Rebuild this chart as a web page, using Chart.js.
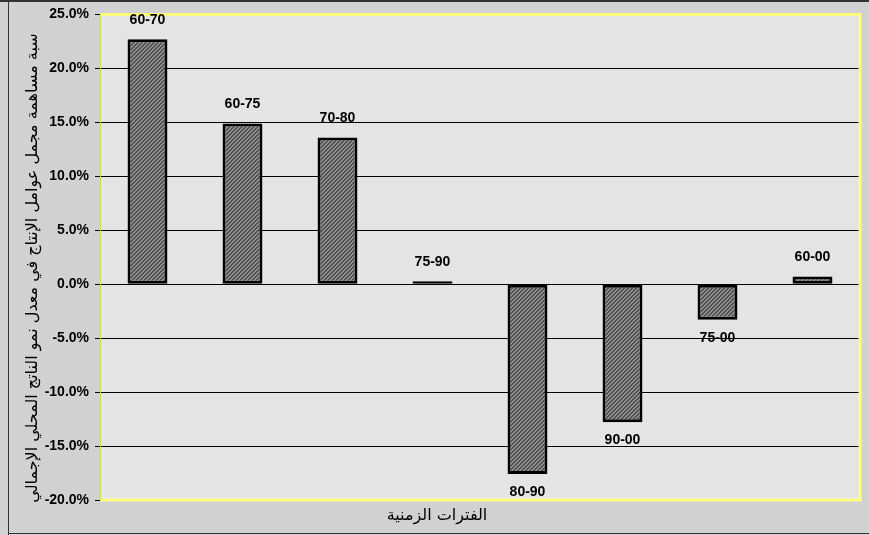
<!DOCTYPE html>
<html>
<head>
<meta charset="utf-8">
<script src="https://cdn.jsdelivr.net/npm/chart.js@4.4.0/dist/chart.umd.min.js"></script>
<style>
  html, body { margin: 0; padding: 0; background: #fff; }
  #wrap { width: 869px; height: 535px; }
</style>
</head>
<body>
<div id="wrap"><canvas id="tfp-chart" width="869" height="535"></canvas></div>
<script>
// Periods and contribution of total factor productivity (%)
const periods = ['60-70', '60-75', '70-80', '75-90', '80-90', '90-00', '75-00', '60-00'];
const contribution = [22.7, 14.9, 13.6, 0.1, -17.6, -12.8, -3.3, 0.7];
const yTicks = [-20, -15, -10, -5, 0, 5, 10, 15, 20, 25];

const yTitle = 'سبة مساهمة مجمل عوامل الإنتاج في معدل نمو الناتج المحلي الإجمالي';
const xTitle = 'الفترات الزمنية';

function makePattern(size, draw) {
    const c = document.createElement('canvas');
    c.width = size; c.height = size;
    draw(c.getContext('2d'), size);
    return c;
}

const hatch = makePattern(4, (g, s) => {
    g.fillStyle = '#8e8e8e';
    g.fillRect(0, 0, s, s);
    g.fillStyle = '#505050';
    for (let i = 0; i < s; i++) {
        g.fillRect(i, s - 1 - i, 1, 1);
        g.fillRect((i + 1) % s, s - 1 - i, 1, 1);
    }
});
const dotsOuter = makePattern(2, (g) => {
    g.fillStyle = '#d6d6d6'; g.fillRect(0, 0, 2, 2);
    g.fillStyle = '#cdcdcd'; g.fillRect(0, 0, 1, 1); g.fillRect(1, 1, 1, 1);
});
const dotsInner = makePattern(2, (g) => {
    g.fillStyle = '#e6e6e6'; g.fillRect(0, 0, 2, 2);
    g.fillStyle = '#e0e0e0'; g.fillRect(0, 0, 1, 1);
});

const ctx = document.getElementById('tfp-chart').getContext('2d');
const hatchFill = ctx.createPattern(hatch, 'repeat');

const framePlugin = {
    id: 'frame',
    beforeDraw(chart) {
        const g = chart.ctx;
        const a = chart.chartArea;
        g.save();
        g.fillStyle = g.createPattern(dotsOuter, 'repeat');
        g.fillRect(0, 0, chart.width, chart.height);
        g.fillStyle = g.createPattern(dotsInner, 'repeat');
        g.fillRect(a.left, a.top, a.right - a.left, a.bottom - a.top);
        // dark outer frame
        g.fillStyle = '#333';
        g.fillRect(0, 0, chart.width, 2);
        g.fillRect(8, 0, 1, chart.height);
        g.fillRect(8, chart.height - 2, chart.width, 1);
        g.restore();
    },
    afterDatasetsDraw(chart) {
        const g = chart.ctx;
        const a = chart.chartArea;
        g.save();
        g.strokeStyle = '#ffff80';
        g.lineWidth = 3;
        g.beginPath();
        g.moveTo(a.left, a.top);
        g.lineTo(a.right, a.top);
        g.lineTo(a.right, a.bottom);
        g.lineTo(a.left, a.bottom);
        g.stroke();
        g.strokeStyle = '#d8d850';
        g.lineWidth = 1;
        g.beginPath();
        g.moveTo(a.left + 0.5, a.top);
        g.lineTo(a.left + 0.5, a.bottom);
        g.stroke();

        // period labels on each bar
        g.fillStyle = '#000';
        g.font = 'bold 14px "Liberation Sans", Arial, sans-serif';
        g.textAlign = 'center';
        g.textBaseline = 'middle';
        chart.getDatasetMeta(0).data.forEach((bar, i) => {
            const v = contribution[i];
            g.fillText(periods[i], bar.x, v >= 0 ? bar.y - 19 : bar.y + 18);
        });

        // axis titles
        g.font = '16px "DejaVu Sans", sans-serif';
        g.fillText(xTitle, 437, 516);
        g.translate(33, 268);
        g.rotate(-Math.PI / 2);
        g.font = '16px "DejaVu Sans", sans-serif';
        g.fillText(yTitle, 0, 0);
        g.restore();
    }
};

new Chart(ctx, {
    type: 'bar',
    data: {
        labels: periods,
        datasets: [{
            data: contribution,
            backgroundColor: hatchFill,
            borderColor: '#000',
            borderWidth: 3,
            borderSkipped: false,
            minBarLength: 3,
            categoryPercentage: 1,
            barPercentage: 0.42
        }]
    },
    plugins: [framePlugin],
    options: {
        responsive: false,
        animation: false,
        layout: { padding: { top: 14, right: 9, bottom: 35, left: 0 } },
        plugins: {
            legend: { display: false },
            tooltip: { enabled: false }
        },
        scales: {
            x: {
                grid: { display: false },
                border: { display: false },
                ticks: { display: false },
                afterFit: s => { s.height = 0; }
            },
            y: {
                min: -20,
                max: 25,
                afterBuildTicks: s => { s.ticks = yTicks.map(v => ({ value: v })); },
                afterFit: s => { s.width = 100; },
                border: { display: false },
                grid: {
                    color: '#000',
                    lineWidth: 1,
                    tickLength: 5
                },
                ticks: {
                    color: '#000',
                    padding: 6,
                    font: { family: '"Liberation Sans", Arial, sans-serif', size: 14, weight: 'bold' },
                    callback: v => v.toFixed(1) + '%'
                }
            }
        }
    }
});
</script>
</body>
</html>
